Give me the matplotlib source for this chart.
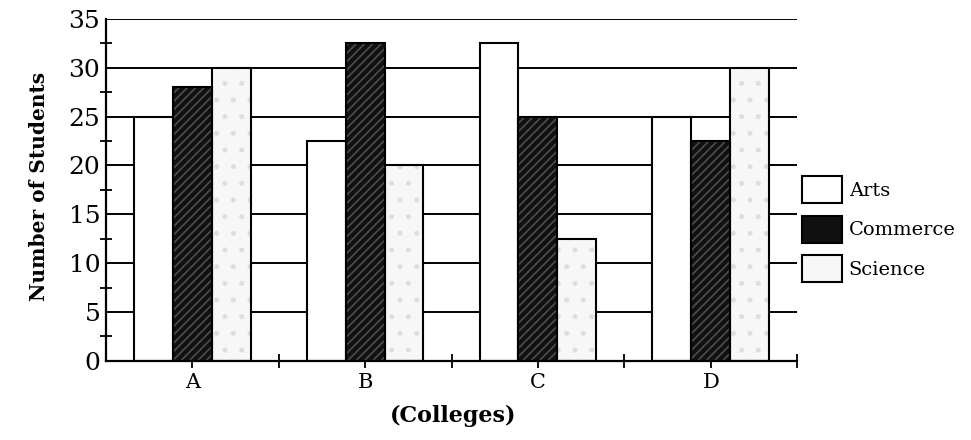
import matplotlib.pyplot as plt
import numpy as np
from matplotlib.patches import Patch

colleges = ["A", "B", "C", "D"]
arts = [25, 22.5, 32.5, 25]
commerce = [28, 32.5, 25, 22.5]
science = [30, 20, 12.5, 30]
yTicks = [0, 5, 10, 15, 20, 25, 30, 35]

plt.rcParams["font.family"] = ["DejaVu Serif"]
plt.rcParams["hatch.linewidth"] = 1.2

fig = plt.figure(figsize=(9.71, 4.40), dpi=100)
ax = fig.add_axes([0.109, 0.180, 0.712, 0.777])

x = np.arange(1, len(colleges) + 1)
barWidth = 0.225

# gridlines behind the bars
for y in yTicks[1:]:
    ax.axhline(y, color="black", lw=1.4, zorder=0)

# arts: plain white
ax.bar(x - barWidth, arts, width=barWidth, color="white", edgecolor="black", lw=1.5, zorder=2)

# commerce: dark with faint light streaks
ax.bar(x, commerce, width=barWidth, color="#111111", edgecolor="#4e4e4e", hatch="////", lw=0, zorder=2)
ax.bar(x, commerce, width=barWidth, fill=False, edgecolor="black", lw=1.5, zorder=3)

# science: near white, lightly speckled
ax.bar(x + barWidth, science, width=barWidth, color="#f7f7f7", edgecolor="#dedede", hatch=".", lw=0, zorder=2)
ax.bar(x + barWidth, science, width=barWidth, fill=False, edgecolor="black", lw=1.5, zorder=3)

ax.set_xlim(0.5, len(colleges) + 0.5)
ax.set_ylim(0, 35)

ax.set_yticks(yTicks)
ax.set_yticklabels([str(t) for t in yTicks], fontsize=18)
ax.set_yticks(np.arange(2.5, 35, 5), minor=True)
ax.tick_params(axis="y", which="major", length=0, pad=4)
ax.tick_params(axis="y", which="minor", direction="inout", length=8, width=1.3)

ax.set_xticks(x)
ax.set_xticklabels(colleges, fontsize=15)
ax.set_xticks(np.arange(1.5, len(colleges) + 0.6, 1), minor=True)
ax.tick_params(axis="x", which="major", direction="out", length=5, width=1.3, pad=4)
ax.tick_params(axis="x", which="minor", direction="inout", length=10, width=1.3)

for side in ["top", "right"]:
    ax.spines[side].set_visible(False)
for side in ["left", "bottom"]:
    ax.spines[side].set_linewidth(1.6)

ax.set_ylabel("Number of Students", fontsize=14.5, fontweight="bold")
ax.yaxis.set_label_coords(-0.082, 0.51)
ax.set_xlabel("(Colleges)", fontsize=16, fontweight="bold")
ax.xaxis.set_label_coords(0.502, -0.13)

handles = [
    Patch(facecolor="white", edgecolor="black", lw=1.5),
    Patch(facecolor="#111111", edgecolor="black", lw=1.5),
    Patch(facecolor="#f7f7f7", edgecolor="black", lw=1.5),
]
ax.legend(handles, ["Arts", "Commerce", "Science"], loc="center left",
          bbox_to_anchor=(0.99, 0.385), frameon=False, fontsize=14,
          handlelength=2.05, handleheight=1.75, labelspacing=0.65,
          handletextpad=0.35, borderaxespad=0.2)

plt.savefig("out.png", dpi=100)
